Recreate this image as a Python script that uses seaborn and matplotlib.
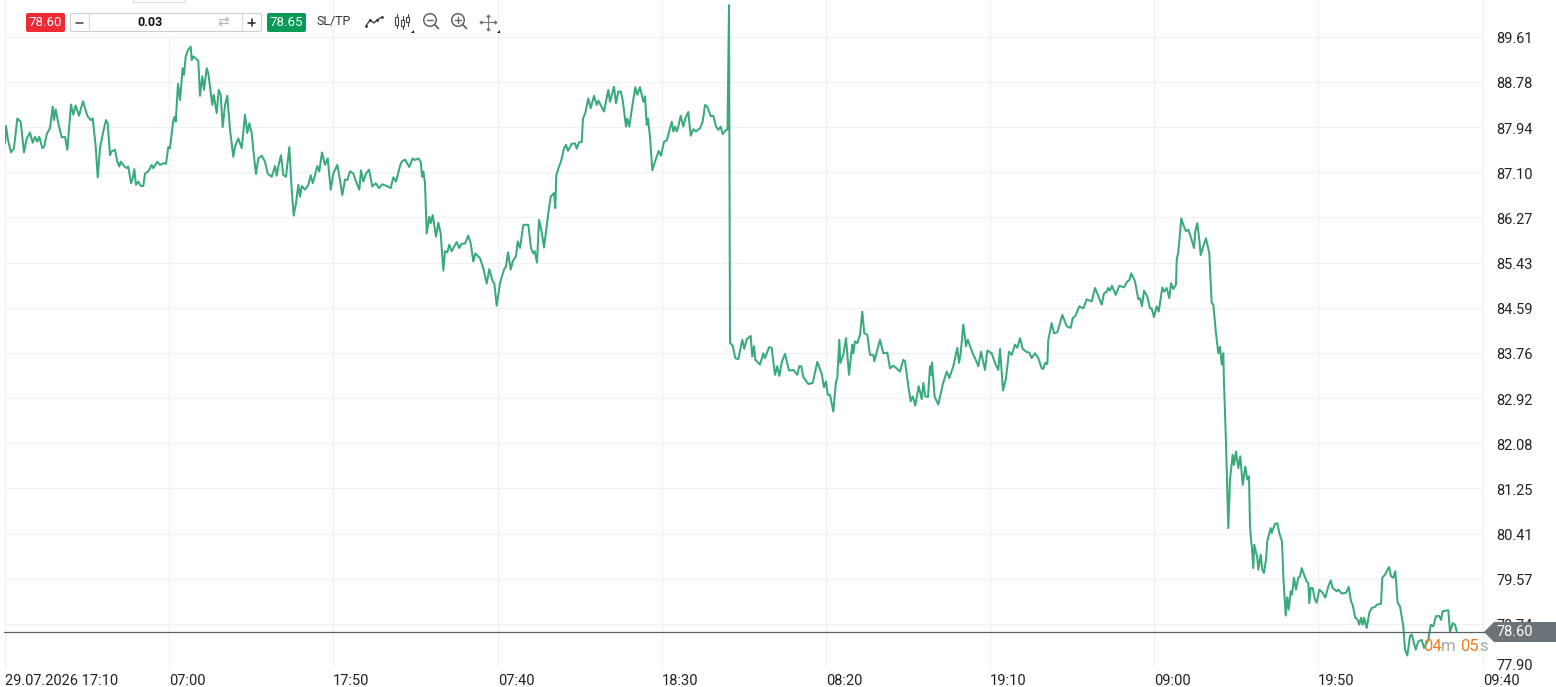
import numpy as np
import pandas as pd
import matplotlib
matplotlib.use('Agg')
import matplotlib.pyplot as plt
import matplotlib.transforms as mtrans
import seaborn as sns
from matplotlib.patches import FancyBboxPatch, Polygon, Rectangle, Circle

# price trace, x is the position along the time axis
part1_x = [0, 1, 3, 6, 9, 12.3, 15.7, 19, 21.7, 25, 27.7, 30, 32.3, 34.3, 37.3, 39.3, 41.7, 45, 47.7, 49, 50.7, 53.3, 56.7, 60, 62.3, 66, 68.3, 70.7, 74, 78, 82.3, 85.7, 87.7, 90.7, 92.7, 95, 98.3, 101, 102.7, 105, 106.7, 110, 112.3, 114.3, 115.7, 119, 121.7, 123.3, 126, 127.7, 129.3, 131, 133.3, 135.7, 138.3, 140, 143.3, 146.7, 148.3, 152.3, 155, 158.3, 161, 163.3, 165, 168.3, 169.7, 170.7, 173, 175, 177.7, 179, 180.7, 183.3, 185.7, 186.7, 188.3, 193.3, 195, 197.3, 199, 201.7, 203.3, 207.3, 208.7, 211.7, 213.7, 215.7, 217.7, 220, 222.3, 225, 228.3, 230, 233.3, 236.7, 240, 242.3, 244.3, 246.7, 249, 251, 253.3, 256.7, 260, 262.7, 266.7, 270, 271.7, 273.3, 276, 278.3, 281, 284.3, 286.7, 288.7, 291, 293.3, 295, 296.7, 300, 303.3, 305.7, 307.7, 310, 312.3, 314.3, 317, 320, 322.7, 325.7, 328.3, 332.3, 335, 337.3, 340, 342.3, 345, 348.3, 351.7, 354.3, 356, 358.3, 361, 364, 367.3, 370.7, 374, 377.3, 381.7, 385.7, 388.3, 391, 395]
part1_y = [87.64, 87.96, 87.70, 87.47, 87.55, 88.10, 88.04, 87.47, 87.73, 87.84, 87.65, 87.76, 87.67, 87.76, 87.55, 87.58, 87.81, 87.92, 88.32, 88.07, 88.27, 88.01, 87.75, 87.76, 87.52, 88.36, 88.17, 88.34, 88.15, 88.42, 88.15, 88.07, 88.10, 87.58, 87.01, 87.55, 87.86, 88.07, 88.01, 87.42, 87.49, 87.52, 87.30, 87.21, 87.30, 87.22, 87.18, 87.21, 86.90, 86.99, 87.16, 86.87, 86.93, 86.85, 86.85, 87.08, 87.12, 87.24, 87.18, 87.30, 87.24, 87.27, 87.26, 87.57, 87.55, 88.07, 88.13, 88.04, 88.74, 88.44, 89.03, 88.91, 89.25, 89.38, 89.43, 89.18, 89.25, 89.17, 88.52, 88.88, 88.63, 89.03, 88.94, 88.35, 88.54, 88.20, 88.63, 88.54, 87.94, 88.35, 88.52, 87.89, 87.39, 87.58, 87.73, 87.55, 88.17, 87.83, 88.01, 87.83, 87.39, 87.07, 87.36, 87.41, 87.30, 87.08, 87.02, 87.22, 87.04, 87.21, 87.42, 87.05, 87.02, 87.57, 86.78, 86.30, 86.53, 86.87, 86.65, 86.85, 86.78, 86.87, 87.05, 86.90, 87.05, 87.22, 87.12, 87.47, 87.24, 87.36, 86.78, 87.08, 87.24, 86.96, 86.68, 86.97, 86.96, 87.12, 87.08, 86.90, 86.78, 87.14, 86.93, 87.08, 87.15, 86.84, 86.90, 86.81, 86.88, 86.85, 86.81, 87.01, 86.93, 87.22]

part2_x = [396.7, 400, 404.3, 407.7, 410, 413.3, 415.7, 417, 418.3, 420, 421.7, 424.3, 425.7, 427.7, 431, 433.3, 435.7, 438.3, 440, 442.3, 444.3, 446.7, 451.7, 454.3, 456.7, 460, 463.3, 465.7, 468.3, 470.3, 475, 478.3, 481.7, 484.3, 487.7, 489.3, 491.7, 495, 499, 501, 503, 505.7, 507.7, 511, 512.7, 515, 518.3, 523.3, 526, 528.3, 529.7, 532, 534, 536.7, 539, 543.3, 545.7, 549, 550.3, 551.3, 554, 556, 559, 561, 563, 566.7, 570, 571.7, 574, 576.7, 578, 580.3, 583.3, 585.7, 589, 591.7, 593.3, 596.7, 599, 603.3, 605, 609, 611, 613.3, 615.7, 617.7, 621, 622.3, 624.3, 627.7, 630.3, 632.3, 635, 638.3, 640, 641.7, 643, 645, 647.3, 650, 653.7, 656, 659, 661.7, 665, 666.7, 668.3, 670, 671.7, 673.3, 675.7, 678.3, 680.7, 683.3, 685.7, 688.3, 691, 695, 697.7, 700, 702.3, 705.7, 708.3, 711, 713.3, 715.7, 717.7, 721, 722.5, 724]
part2_y = [87.30, 87.34, 87.20, 87.36, 87.33, 87.36, 87.30, 87.02, 87.12, 86.90, 85.97, 86.28, 86.16, 86.31, 85.91, 86.17, 85.97, 85.28, 85.64, 85.62, 85.76, 85.64, 85.81, 85.70, 85.78, 85.78, 85.93, 85.79, 85.45, 85.60, 85.51, 85.33, 85.04, 85.31, 85.08, 85.05, 84.63, 85.05, 85.30, 85.36, 85.62, 85.30, 85.45, 85.55, 85.82, 85.70, 86.13, 86.13, 85.70, 85.60, 85.64, 85.43, 86.22, 86.00, 85.71, 86.35, 86.65, 86.72, 86.44, 87.05, 87.21, 87.30, 87.55, 87.61, 87.50, 87.63, 87.64, 87.54, 87.66, 87.66, 88.10, 88.20, 88.47, 88.29, 88.52, 88.35, 88.43, 88.31, 88.23, 88.63, 88.41, 88.69, 88.38, 88.60, 88.60, 88.44, 87.95, 88.10, 87.95, 88.38, 88.68, 88.54, 88.68, 88.41, 88.51, 87.98, 88.10, 87.76, 87.14, 87.30, 87.50, 87.41, 87.67, 87.69, 87.92, 88.04, 87.86, 87.95, 87.86, 87.95, 88.15, 87.95, 88.12, 88.22, 87.78, 87.90, 87.86, 87.92, 88.04, 88.35, 88.32, 88.14, 88.15, 87.95, 87.89, 87.95, 87.81, 87.89, 87.89, 90.20]

part3_x = [725, 727.7, 730.3, 733.3, 737.3, 739.3, 741.7, 745.7, 747.3, 749, 750.3, 755, 758.3, 760, 764, 766.7, 770, 772.3, 774.3, 777, 780, 784, 788.3, 792.3, 794.3, 796.3, 798.3, 803.3, 807.7, 812.3, 816.7, 819, 821, 822.7, 825, 828.3, 831, 832.3, 834.3, 835.3, 838.3, 841, 844, 847.3, 848.3, 850, 852.3, 855, 857.3, 859.3, 862.3, 865, 868.3, 869.3, 872.3, 875, 878.3, 882.3, 885, 888.3, 891.7, 895, 898.3, 900, 903.3, 905.7, 907.7, 910.3, 913.7, 916.7, 918.3, 920.3, 923, 925, 926, 927, 929.7, 933.3, 937.7, 941.7, 944.3, 948.3, 952.3, 954, 955.7, 958.3, 961, 962.7, 968.3, 970, 973.3, 976, 980, 982.3, 986.7, 990, 993.3, 995, 998, 1001, 1004, 1006.7, 1010, 1012.3, 1015, 1017.7, 1021, 1024.3, 1026.7, 1030, 1033.3, 1036.7, 1038.3, 1040, 1042.3, 1043.3, 1046.7, 1049, 1052.3, 1057.3, 1061.7, 1065.7, 1067.7, 1070.3, 1074.3]
part3_y = [83.94, 83.89, 83.66, 83.64, 84.00, 83.83, 84.01, 84.07, 83.69, 83.88, 83.63, 83.54, 83.75, 83.66, 83.86, 83.85, 83.35, 83.51, 83.33, 83.60, 83.74, 83.43, 83.44, 83.35, 83.51, 83.51, 83.31, 83.18, 83.20, 83.59, 83.37, 83.12, 83.23, 82.98, 82.98, 82.67, 83.23, 83.29, 84.00, 83.57, 83.72, 84.03, 83.35, 83.91, 83.75, 83.97, 83.94, 84.09, 84.52, 84.12, 84.09, 83.72, 83.72, 83.60, 83.81, 84.00, 83.75, 83.76, 83.47, 83.52, 83.47, 83.41, 83.63, 83.60, 83.14, 82.86, 82.95, 82.78, 83.14, 82.90, 83.20, 82.95, 82.94, 83.51, 83.35, 83.58, 82.94, 82.80, 83.17, 83.41, 83.29, 83.51, 83.85, 83.57, 83.75, 84.28, 83.88, 84.00, 83.72, 83.66, 83.51, 83.78, 83.44, 83.80, 83.75, 83.57, 83.44, 83.83, 83.06, 83.29, 83.78, 83.72, 83.91, 83.85, 84.03, 83.83, 83.78, 83.76, 83.66, 83.75, 83.66, 83.47, 83.46, 83.57, 83.55, 84.00, 84.31, 84.12, 84.14, 84.46, 84.25, 84.22, 84.40, 84.44, 84.62]

part4_x = [1078.3, 1081.7, 1086.7, 1090, 1093.3, 1096.7, 1099, 1101.7, 1103, 1105, 1107, 1110.7, 1114.3, 1119, 1122.3, 1124.3, 1126.3, 1130, 1133.3, 1135, 1137, 1139, 1142.3, 1145, 1146.7, 1149, 1151.7, 1153.7, 1157.3, 1159, 1161.7, 1164.3, 1166, 1168.3, 1171, 1171.7, 1173.3, 1176.3, 1178.3, 1181, 1183.3, 1185.7, 1189, 1190.3, 1192.3, 1194.3, 1195.7, 1198.3, 1201, 1204.3, 1206.7, 1208.3, 1211, 1213.3, 1215, 1216.7, 1218.3, 1219, 1221, 1223.3, 1225, 1227.7, 1229, 1231, 1233.3, 1235.3, 1237.7, 1240.3, 1242.3, 1244, 1245, 1246.3]
part4_y = [84.58, 84.75, 84.71, 84.96, 84.81, 84.65, 84.86, 84.89, 84.96, 84.91, 85.00, 84.83, 85.00, 84.97, 85.08, 85.10, 85.23, 85.08, 84.75, 84.77, 84.62, 84.91, 84.80, 84.58, 84.58, 84.42, 84.62, 84.52, 84.97, 84.89, 84.96, 84.77, 85.05, 84.94, 85.02, 85.48, 85.63, 86.25, 86.13, 86.01, 86.04, 85.91, 85.70, 86.01, 86.16, 85.85, 85.57, 85.73, 85.88, 85.60, 84.68, 84.65, 84.12, 83.75, 83.87, 83.54, 83.75, 83.20, 82.09, 80.51, 81.41, 81.87, 81.68, 81.93, 81.62, 81.84, 81.31, 81.65, 81.41, 81.47, 80.54, 80.23]

part5_x = [1246.7, 1248.3, 1249.3, 1252.3, 1253.3, 1255.7, 1257.3, 1259, 1261, 1262.3, 1265.7, 1266.7, 1270, 1272.3, 1274.3, 1277, 1278.3, 1280.7, 1282.3, 1283.7, 1285.7, 1287, 1289, 1291, 1293.3, 1295, 1296.7, 1299, 1301.7, 1303.3, 1304.3, 1305.7, 1307.7, 1310, 1311.7, 1314.3, 1317.7, 1320.3, 1323.3, 1325.7, 1327.7, 1331.7, 1333.3, 1336.7, 1341, 1343.7, 1346, 1347.7, 1350, 1352.7, 1354.3, 1356, 1357.7, 1359, 1361.7, 1364.3, 1366.7, 1370, 1371.7, 1376, 1377.3, 1380, 1384, 1386, 1388.3, 1390.3, 1392.7, 1395, 1398.3, 1400, 1402.3, 1405, 1406.7, 1410.7, 1413.3, 1416.7, 1419, 1423.3, 1425.7, 1428.3, 1431, 1434.3, 1436, 1437.7, 1443.3, 1445, 1447.7, 1450, 1451.7]
part5_y = [80.20, 79.77, 80.20, 79.96, 79.74, 80.02, 79.74, 79.68, 79.93, 80.27, 80.51, 80.42, 80.59, 80.60, 80.42, 80.26, 79.62, 78.89, 79.23, 79.00, 79.34, 79.28, 79.59, 79.37, 79.59, 79.62, 79.77, 79.65, 79.52, 79.49, 79.12, 79.40, 79.40, 79.18, 79.13, 79.37, 79.31, 79.22, 79.43, 79.54, 79.40, 79.34, 79.37, 79.30, 79.31, 79.42, 79.15, 79.09, 78.86, 78.81, 78.72, 78.85, 78.72, 78.85, 78.66, 78.94, 79.03, 79.05, 79.09, 79.11, 79.59, 79.65, 79.79, 79.62, 79.59, 79.71, 79.12, 79.06, 78.69, 78.26, 78.15, 78.51, 78.54, 78.26, 78.41, 78.44, 78.29, 78.44, 78.72, 78.69, 78.88, 78.88, 78.81, 78.97, 78.99, 78.58, 78.75, 78.72, 78.60]

price_ticks = [77.90, 78.74, 79.57, 80.41, 81.25, 82.08, 82.92, 83.76, 84.59, 85.43, 86.27, 87.10, 87.94, 88.78, 89.61]
time_ticks = [0, 164, 328, 493, 657, 821, 985, 1149, 1313, 1478]
time_labels = ['29.07.2026 17:10', '07:00', '17:50', '07:40', '18:30', '08:20', '19:10', '09:00', '19:50', '09:40']
bid = 78.60
ask = 78.65
lot = 0.03

df = pd.DataFrame({
    'x': part1_x + part2_x + part3_x + part4_x + part5_x,
    'price': part1_y + part2_y + part3_y + part4_y + part5_y,
})

sns.set_theme(style='white')
plt.rcParams['font.family'] = ['Roboto', 'DejaVu Sans']

fig = plt.figure(figsize=(15.56, 6.87), dpi=100)
ax = fig.add_axes([5 / 1556, 18 / 687, 1479 / 1556, 669 / 687])

sns.lineplot(data=df, x='x', y='price', color='#38aa7c', linewidth=1.45, estimator=None, sort=False, ax=ax, zorder=3)

ax.set_xlim(0, 1479)
ax.set_ylim(77.90, 90.295)
ax.set_xlabel('')
ax.set_ylabel('')
ax.set_xticks(time_ticks)
ax.set_xticklabels(time_labels, ha='left')
ax.set_yticks(price_ticks)
ax.set_yticklabels([f'{p:.2f}' for p in price_ticks])
ax.yaxis.tick_right()
ax.tick_params(axis='y', length=0, pad=9, labelsize=10.5, labelcolor='#222222')
ax.tick_params(axis='x', length=0, pad=3.5, labelsize=10.5, labelcolor='#222222')
ax.grid(True, color='#f0f1f3', linewidth=0.85)
sns.despine(ax=ax, left=True, right=True, top=True, bottom=True)

# the labels sit a pixel low, the bottom one is pushed up to stay clear of the dates
for lbl, p in zip(ax.get_yticklabels(), price_ticks):
    dy = 5 if p == 77.90 else -1
    lbl.set_transform(lbl.get_transform() + mtrans.ScaledTranslation(0, dy / 100, fig.dpi_scale_trans))

# toolbar and price badges, in pixels of the screenshot
ov = fig.add_axes([0, 0, 1, 1])
ov.set_xlim(0, 1556)
ov.set_ylim(687, 0)
ov.axis('off')
ov.patch.set_alpha(0)


def box(x0, y0, x1, y1, fc, ec='none'):
    ov.add_patch(FancyBboxPatch((x0, y0), x1 - x0, y1 - y0, boxstyle='round,pad=0,rounding_size=2',
                                fc=fc, ec=ec, lw=0.8, zorder=5))


ov.add_patch(Rectangle((133, 0), 52, 36, fc='white', ec='none', zorder=1))
ov.plot([133, 133, 185, 185], [0, 2, 2, 0], color='#dddddd', lw=0.8, zorder=2)

box(26, 13, 65, 32, '#ee2a35')
ov.text(45.5, 22.5, f'{bid:.2f}', color='white', fontsize=9.5, ha='center', va='center', zorder=6)
box(70.5, 13.5, 261.5, 31.5, 'white', '#cfcfcf')
ov.plot([89.5, 89.5], [14, 31], color='#d8d8d8', lw=0.8, zorder=6)
ov.plot([242.5, 242.5], [14, 31], color='#d8d8d8', lw=0.8, zorder=6)
ov.plot([76.5, 83.5], [22.5, 22.5], color='#444444', lw=1.1, zorder=6)
ov.plot([248.5, 255.5], [22.5, 22.5], color='#222222', lw=1.1, zorder=6)
ov.plot([252, 252], [19, 26], color='#222222', lw=1.1, zorder=6)
ov.text(150.5, 22, f'{lot:.2f}', color='#111111', fontsize=9, fontweight='bold', ha='center', va='center', zorder=6)
ov.text(223.5, 22.5, '\u21c4', color='#b5b5b5', fontsize=10, family='DejaVu Sans', ha='center', va='center', zorder=6)
box(267, 13, 306, 32, '#0a9a58')
ov.text(286.5, 22.5, f'{ask:.2f}', color='white', fontsize=9.5, ha='center', va='center', zorder=6)
ov.text(334, 21, 'SL/TP', color='#333333', fontsize=9, ha='center', va='center', zorder=6)

# line chart icon
ov.plot([366, 370, 374, 377, 382], [26, 20, 23, 20, 17], color='#333333', lw=0.9, zorder=6)
ov.scatter([366, 370, 377, 382], [26, 20, 20, 17], s=4, color='#333333', zorder=6, linewidths=0)
# candle icon
for cx, top, bot, y0, y1 in [(397, 14, 28, 17, 25), (403, 16, 29, 20, 26), (408, 14, 26, 17, 22)]:
    ov.plot([cx, cx], [top, bot], color='#444444', lw=0.8, zorder=6)
    ov.add_patch(Rectangle((cx - 1.5, y0), 3, y1 - y0, fc='white', ec='#444444', lw=0.8, zorder=7))
# zoom icons
for cx in [430, 458]:
    ov.add_patch(Circle((cx, 20), 6.3, fc='white', ec='#666666', lw=1.1, zorder=6))
    ov.plot([cx + 4.5, cx + 8.5], [24.5, 28.5], color='#666666', lw=1.3, zorder=6)
    ov.plot([cx - 3, cx + 3], [20, 20], color='#666666', lw=1.0, zorder=7)
ov.plot([458, 458], [17, 23], color='#666666', lw=1.0, zorder=7)
# move icon
ov.plot([481, 496], [22, 22], color='#777777', lw=0.8, zorder=6)
ov.plot([488.5, 488.5], [14.5, 29.5], color='#777777', lw=0.8, zorder=6)
ov.scatter([481.5, 495.5, 488.5, 488.5], [22, 22, 15.5, 28.5], s=5, marker='D', color='#777777', zorder=6, linewidths=0)
# corner marks under the icons
ov.add_patch(Polygon([[414, 30], [414, 33], [411, 33]], fc='#111111', ec='none', zorder=6))
ov.add_patch(Polygon([[500, 30], [500, 33], [497, 33]], fc='#111111', ec='none', zorder=6))

# current price line and tag
ov.plot([4, 1484], [631.5, 631.5], color='#5a6066', lw=0.9, zorder=4)
ov.add_patch(Polygon([[1484, 632], [1494, 622], [1556, 622], [1556, 642], [1494, 642]], fc='#6b7378', ec='none', zorder=5))
ov.text(1497, 632.5, f'{bid:.2f}', color='white', fontsize=10.5, ha='left', va='center', zorder=6)

# countdown to the next bar
for tx, piece, col in [(1423, '04', '#f07d1c'), (1441, 'm', '#a8a8a8'), (1460, '05', '#f07d1c'), (1479, 's', '#a8a8a8')]:
    ov.text(tx, 646.5, piece, color=col, fontsize=12, ha='left', va='center', zorder=6)

fig.savefig('out.png', dpi=100, facecolor='white')
plt.close(fig)
